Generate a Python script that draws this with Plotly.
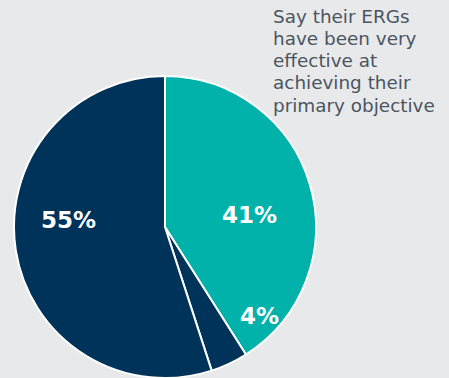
import plotly.graph_objects as go

# Share of respondents by how effective their ERGs have been
segments = ["Very effective", "Other", "Not very effective"]
shares = [41, 4, 55]
colors = ["#00b2aa", "#00335a", "#00335a"]

# Label anchor points (paper coords) for each slice's value label
label_x = [249 / 449, 259 / 449, 68 / 449]
label_y = [1 - 215 / 378, 1 - 316 / 378, 1 - 220 / 378]

caption_lines = [
    "Say their ERGs",
    "have been very",
    "effective at",
    "achieving their",
    "primary objective",
]

W, H = 449, 378
fig = go.Figure()
fig.add_trace(go.Pie(
    labels=segments,
    values=shares,
    sort=False,
    direction="clockwise",
    rotation=0,
    marker=dict(colors=colors, line=dict(color="#ffffff", width=2)),
    textinfo="none",
    hoverinfo="label+percent",
    showlegend=False,
    domain=dict(x=[13 / W, 317 / W], y=[0, 1 - 76 / H]),
))

for v, x, y in zip(shares, label_x, label_y):
    fig.add_annotation(
        x=x, y=y, xref="paper", yref="paper",
        text=f"<b>{v}%</b>", showarrow=False,
        font=dict(family="DejaVu Sans", size=23, color="#ffffff"),
        xanchor="center", yanchor="middle",
    )

# Caption, one annotation per line for even spacing
for i, line in enumerate(caption_lines):
    fig.add_annotation(
        x=271 / W, y=1 - (16 + 22.3 * i) / H, xref="paper", yref="paper",
        text=line, showarrow=False, align="left",
        xanchor="left", yanchor="middle",
        font=dict(family="DejaVu Sans", size=18.4, color="#4a5561"),
    )

fig.update_layout(
    width=W, height=H,
    margin=dict(l=0, r=0, t=0, b=0),
    paper_bgcolor="#e8e9ea",
    plot_bgcolor="#e8e9ea",
)

fig.write_html("out.html")
